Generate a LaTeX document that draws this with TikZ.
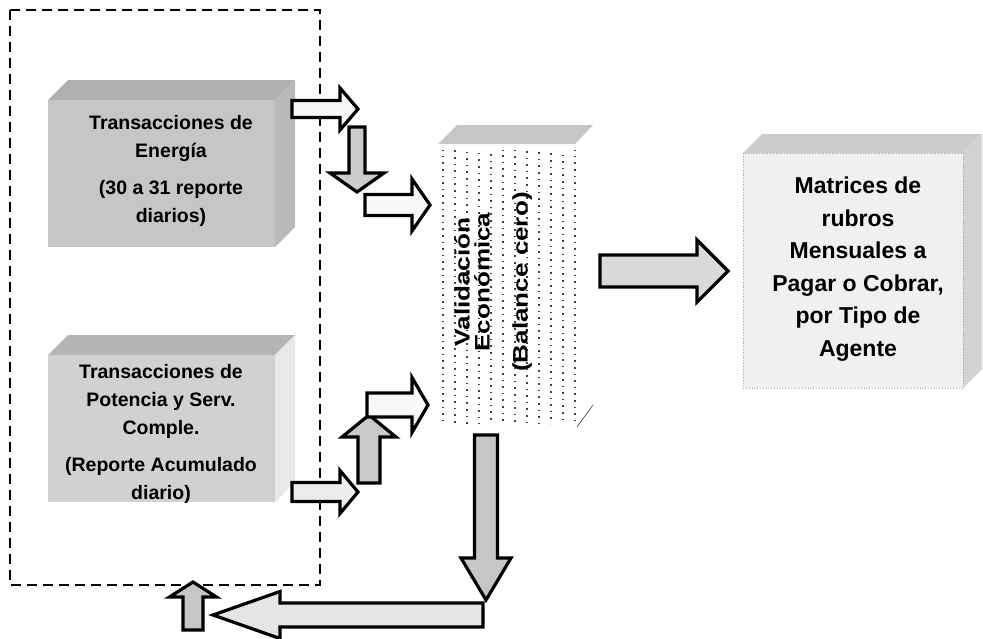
\documentclass[tikz,border=0pt]{standalone}
\usepackage{fontspec}
\setmainfont{Liberation Sans}
\usetikzlibrary{calc}
\tikzset{
    arrowline/.style={line width=3.2pt,line join=miter,draw=black},
    boxtext/.style={align=center,font=\bfseries\fontsize{19.5}{28}\selectfont},
    dotcol/.style={line width=1.6pt,black!75,dash pattern=on 1.6pt off 5pt},
}
% block arrow: fill, start, end, body half width, head half width, head length
\newcommand{\blockarrow}[6]{%
    \coordinate (ba1) at (#2);
    \coordinate (ba2) at (#3);
    \coordinate (bah) at ($(ba2)!#6!(ba1)$);
    \filldraw[arrowline,fill=#1] ($(ba1)!#4!90:(ba2)$) -- ($(bah)!#4!-90:(ba1)$)
        -- ($(bah)!#5!-90:(ba1)$) -- (ba2) -- ($(bah)!#5!90:(ba1)$)
        -- ($(bah)!#4!90:(ba1)$) -- ($(ba1)!#4!-90:(ba2)$) -- cycle;
}
\begin{document}
\begin{tikzpicture}[x=1pt,y=-1pt]
    \useasboundingbox (0,0) rectangle (983,638);

    % Group of transactions
    \draw[line width=2.6pt,dash pattern=on 10pt off 6pt] (10,10) rectangle (320,585);

    % Energy box
    \fill[gray!45] (48,100) rectangle (275,247);
    \fill[gray!62] (48,100) -- (68,80) -- (295,80) -- (275,100) -- cycle;
    \fill[gray!55] (275,100) -- (295,80) -- (295,227) -- (275,247) -- cycle;
    \node[boxtext] (energia) at (171,171)
        {Transacciones de\\Energía\\[9pt](30 a 31 reporte\\diarios)};

    % Power box
    \fill[gray!36] (48,355) rectangle (275,502);
    \fill[gray!58] (48,355) -- (68,335) -- (295,335) -- (275,355) -- cycle;
    \fill[gray!18] (275,355) -- (295,335) -- (295,482) -- (275,502) -- cycle;
    \node[boxtext] (potencia) at (161,434)
        {Transacciones de\\Potencia y Serv.\\Comple.\\[9pt](Reporte Acumulado\\diario)};

    % Validation box
    \fill[gray!45] (438,144) -- (457,125) -- (593,125) -- (575,144) -- cycle;
    \foreach \x in {443,455,...,575}
        \draw[dotcol,dash phase=\x] (\x,150) -- (\x,424);
    \draw[thin] (577,427) -- (593,405);
    \node[rotate=90,xscale=1.24,align=center,
          font=\bfseries\fontsize{21}{20}\selectfont] (validacion) at (493,282)
        {Validación\\Económica\\[18pt](Balance cero)};

    % Monthly matrices box
    \fill[gray!12] (743,153) rectangle (963,388);
    \fill[gray!40] (743,153) -- (762,134) -- (982,134) -- (963,153) -- cycle;
    \fill[gray!35] (963,153) -- (982,134) -- (982,369) -- (963,388) -- cycle;
    \draw[gray!70,dotted,thick] (743,153) rectangle (963,388);
    \node[boxtext,font=\bfseries\fontsize{23}{32.5}\selectfont] (matrices) at (858,269)
        {Matrices de\\rubros\\Mensuales a\\Pagar o  Cobrar,\\por Tipo de\\Agente};

    % Arrow ends
    \coordinate (e1) at (292,109);  \coordinate (e2) at (358,109);
    \coordinate (e3) at (357,127);  \coordinate (e4) at (357,192);
    \coordinate (e5) at (365,205);  \coordinate (e6) at (430,205);
    \coordinate (p1) at (292,492);  \coordinate (p2) at (358,492);
    \coordinate (p3) at (369,483);  \coordinate (p4) at (369,415);
    \coordinate (p5) at (367,405);  \coordinate (p6) at (428,405);
    \coordinate (m1) at (600,271);  \coordinate (m2) at (728,271);
    \coordinate (r1) at (486,435);  \coordinate (r2) at (486,600);
    \coordinate (r3) at (483,615);  \coordinate (r4) at (213,615);
    \coordinate (r5) at (193,630);  \coordinate (r6) at (193,582);

    % Arrows from energy
    \blockarrow{gray!6}{e1}{e2}{8.5pt}{21pt}{18pt}
    \blockarrow{gray!40}{e3}{e4}{8pt}{27pt}{19pt}
    \blockarrow{gray!5}{e5}{e6}{10.5pt}{26pt}{18pt}

    % Arrows from power
    \blockarrow{gray!15}{p1}{p2}{9.5pt}{21.5pt}{18pt}
    \blockarrow{gray!42}{p3}{p4}{11pt}{27pt}{22pt}
    \blockarrow{gray!5}{p5}{p6}{12pt}{27.5pt}{16pt}

    % Result and return
    \blockarrow{gray!30}{m1}{m2}{16pt}{31pt}{31pt}
    \blockarrow{gray!45}{r1}{r2}{11.5pt}{25pt}{42pt}
    \blockarrow{gray!20}{r3}{r4}{12pt}{23.5pt}{67pt}
    \blockarrow{gray!45}{r5}{r6}{10pt}{23.5pt}{15pt}
\end{tikzpicture}
\end{document}
